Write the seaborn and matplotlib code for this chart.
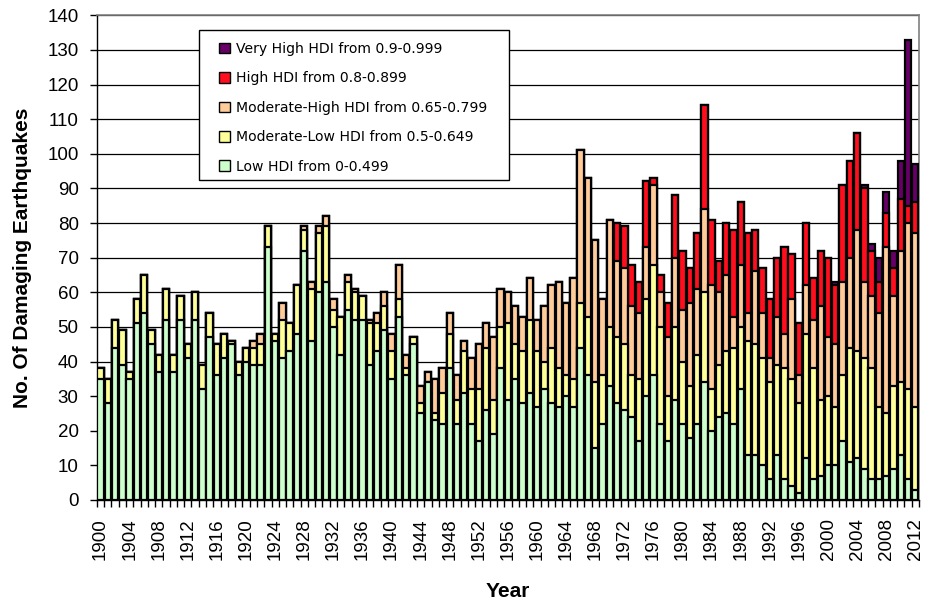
import numpy as np
import pandas as pd
import matplotlib
matplotlib.use("Agg")
import matplotlib.pyplot as plt
from matplotlib.patches import Patch, Rectangle
import seaborn as sns

years = list(range(1900, 2013))

low = [35,28,44,39,35,51,54,45,37,52,37,52,41,52,32,47,36,41,45,36,
       40,39,39,73,46,41,43,48,72,46,60,63,50,42,55,52,52,39,43,49,
       35,53,36,45,25,34,23,22,38,22,31,22,17,26,19,38,29,35,28,31,
       27,32,28,27,30,27,44,36,15,22,33,28,26,24,17,30,36,22,17,29,
       22,18,22,34,20,24,25,22,32,13,13,10,6,13,6,4,2,12,6,7,
       10,10,17,11,12,9,6,6,7,9,13,6,3]
mod_low = [3,7,8,10,2,7,11,4,5,9,5,7,4,8,7,7,9,7,1,4,
           4,5,6,6,2,11,8,14,6,15,17,16,5,11,8,8,7,12,8,7,
           8,5,2,2,3,0,2,9,10,7,12,10,15,18,10,12,22,10,15,21,
           16,8,16,11,6,8,13,17,19,14,17,19,19,12,18,28,32,28,13,21,
           18,15,20,26,12,15,18,22,18,33,32,31,28,26,32,31,26,36,32,22,
           20,17,19,33,31,32,32,21,18,24,21,26,24]
mod_high = [0,0,0,0,0,0,0,0,0,0,0,0,0,0,0,0,0,0,0,0,
            0,2,3,0,0,5,0,0,1,2,2,3,3,0,2,1,0,1,3,4,
            5,10,4,0,5,3,10,7,6,7,3,9,13,7,18,11,9,11,10,12,
            9,16,18,25,21,29,44,40,41,22,31,22,22,20,19,15,23,10,17,20,
            15,24,19,24,30,21,22,9,18,8,21,13,7,14,10,23,8,14,14,27,
            17,18,27,26,35,22,21,27,48,26,38,48,50]
high = [0]*71 + [11,12,12,9,19,2,5,10,18,17,10,16,30,19,9,15,25,18,23,12,
                 13,17,17,25,13,15,18,12,16,23,17,28,28,28,27,13,9,10,8,15,5,9]
very_high = [0]*101 + [1,0,0,0,1,2,7,6,5,11,48,11]

labels = ["Low HDI from 0-0.499",
          "Moderate-Low HDI from 0.5-0.649",
          "Moderate-High HDI from 0.65-0.799",
          "High HDI from 0.8-0.899",
          "Very High HDI from 0.9-0.999"]
colors = ["#CCFFCC", "#FFFF99", "#FFCC99", "#FF0F1E", "#660066"]

layers = [low, mod_low, mod_high, high, very_high]
df = pd.DataFrame({"year": [str(y) for y in years]})
cum = np.zeros(len(years))
for i, lay in enumerate(layers):
    cum = cum + np.array(lay)
    df[f"c{i}"] = cum

fig = plt.figure(figsize=(9.39, 6.13), dpi=100)
L, R, T, B = 96.7, 919.3, 15.3, 500.0
ax = fig.add_axes([L/939, 1-B/613, (R-L)/939, (B-T)/613])

order = [str(y) for y in years]
for i in range(4, -1, -1):
    sns.barplot(data=df, x="year", y=f"c{i}", order=order, color=colors[i],
                saturation=1, width=0.88, edgecolor="black", linewidth=1.6,
                errorbar=None, ax=ax, zorder=3)

ax.set_xlim(-0.53, 112.55)
ax.set_ylim(0, 140)
ax.set_yticks(range(0, 141, 10))
ax.yaxis.grid(True, color="black", linewidth=0.9, zorder=0)
ax.set_axisbelow(True)

tick_idx = list(range(0, 113, 4))
ax.set_xticks(tick_idx)
ax.set_xticklabels([str(years[i]) for i in tick_idx], rotation=90,
                   fontsize=13.5, family="Liberation Sans")
ax.set_xticks(np.arange(-0.5, 113, 1), minor=True)
ax.tick_params(axis="x", which="major", length=0, pad=13)
ax.tick_params(axis="x", which="minor", length=5, width=1, color="black", direction="out")
ax.tick_params(axis="y", which="major", length=5, width=1, color="black",
               labelsize=13.5, pad=8)
for t in ax.get_yticklabels():
    t.set_family("Liberation Sans")

for s in ["left", "bottom"]:
    ax.spines[s].set_color("black")
    ax.spines[s].set_linewidth(1)
for s in ["top", "right"]:
    ax.spines[s].set_color("#808080")
    ax.spines[s].set_linewidth(1.2)

ax.set_xlabel("Year", fontsize=15, fontweight="bold", family="Liberation Sans", labelpad=16)
ax.set_ylabel("No. Of Damaging Earthquakes", fontsize=15, fontweight="bold",
              family="Liberation Sans", labelpad=11)

def ax_x(px):
    return (px - L) / (R - L)

def ax_y(py):
    return (B - py) / (B - T)

# legend frame (white box, black border)
bx0, bx1, by0, by1 = 199, 509, 30, 180
ax.add_patch(Rectangle((ax_x(bx0), ax_y(by1)), ax_x(bx1) - ax_x(bx0), ax_y(by0) - ax_y(by1),
                       transform=ax.transAxes, facecolor="white", edgecolor="black",
                       linewidth=1, zorder=9, clip_on=False))

handles = [Patch(facecolor=colors[i], edgecolor="black", linewidth=1, label=labels[i])
           for i in range(4, -1, -1)]
leg = ax.legend(handles=handles, loc="upper left", bbox_to_anchor=(ax_x(219), ax_y(42)),
                borderaxespad=0, borderpad=0, frameon=False,
                prop={"family": "DejaVu Sans", "size": 10.1},
                handlelength=0.8, handleheight=0.8, handletextpad=0.4,
                labelspacing=1.1)
leg.set_zorder(10)

fig.savefig("out.png", dpi=100)
